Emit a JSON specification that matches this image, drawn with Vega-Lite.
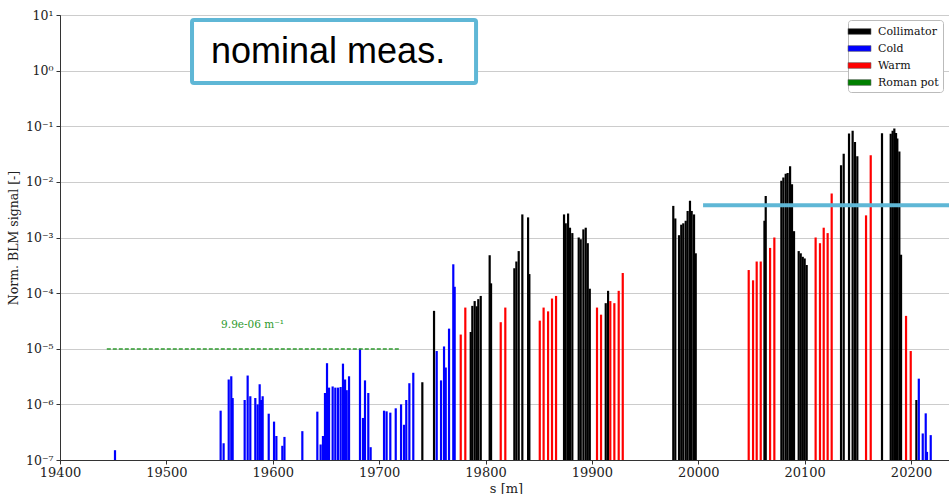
{
  "$schema": "https://vega.github.io/schema/vega-lite/v6.json",
  "width": 892,
  "height": 445,
  "autosize": {"type": "none"},
  "padding": {"left": 60, "top": 15, "right": 0, "bottom": 34},
  "background": "white",
  "config": {
    "view": {"stroke": "#333333", "strokeWidth": 1},
    "font": "DejaVu Serif"
  },
  "datasets": {
    "blm": [
      {"s": 19451.7, "signal": 1.5e-7, "type": "Cold"},
      {"s": 19551.0, "signal": 7.7e-7, "type": "Cold"},
      {"s": 19553.8, "signal": 2.0e-7, "type": "Cold"},
      {"s": 19558.6, "signal": 2.8e-6, "type": "Cold"},
      {"s": 19562.3, "signal": 1.3e-6, "type": "Cold"},
      {"s": 19561.0, "signal": 3.2e-6, "type": "Cold"},
      {"s": 19573.6, "signal": 1.2e-6, "type": "Cold"},
      {"s": 19576.4, "signal": 3.3e-6, "type": "Cold"},
      {"s": 19578.9, "signal": 1.4e-6, "type": "Cold"},
      {"s": 19583.6, "signal": 1.3e-6, "type": "Cold"},
      {"s": 19585.8, "signal": 1.0e-6, "type": "Cold"},
      {"s": 19587.7, "signal": 2.3e-6, "type": "Cold"},
      {"s": 19589.1, "signal": 1.2e-6, "type": "Cold"},
      {"s": 19590.5, "signal": 1.4e-6, "type": "Cold"},
      {"s": 19596.2, "signal": 6.8e-7, "type": "Cold"},
      {"s": 19601.2, "signal": 4.9e-7, "type": "Cold"},
      {"s": 19603.4, "signal": 2.7e-7, "type": "Cold"},
      {"s": 19609.0, "signal": 1.8e-7, "type": "Cold"},
      {"s": 19611.0, "signal": 2.6e-7, "type": "Cold"},
      {"s": 19627.8, "signal": 3.3e-7, "type": "Cold"},
      {"s": 19641.9, "signal": 7.4e-7, "type": "Cold"},
      {"s": 19645.0, "signal": 1.9e-7, "type": "Cold"},
      {"s": 19647.2, "signal": 2.7e-7, "type": "Cold"},
      {"s": 19649.1, "signal": 1.6e-6, "type": "Cold"},
      {"s": 19651.0, "signal": 5.5e-6, "type": "Cold"},
      {"s": 19652.9, "signal": 2.0e-6, "type": "Cold"},
      {"s": 19656.3, "signal": 2.1e-6, "type": "Cold"},
      {"s": 19658.8, "signal": 2.0e-6, "type": "Cold"},
      {"s": 19661.3, "signal": 2.0e-6, "type": "Cold"},
      {"s": 19663.8, "signal": 2.05e-6, "type": "Cold"},
      {"s": 19666.0, "signal": 5.4e-6, "type": "Cold"},
      {"s": 19668.0, "signal": 2.8e-6, "type": "Cold"},
      {"s": 19669.5, "signal": 1.8e-6, "type": "Cold"},
      {"s": 19671.7, "signal": 3.2e-6, "type": "Cold"},
      {"s": 19682.0, "signal": 1.0e-5, "type": "Cold"},
      {"s": 19684.8, "signal": 5.7e-7, "type": "Cold"},
      {"s": 19686.7, "signal": 2.7e-6, "type": "Cold"},
      {"s": 19689.8, "signal": 1.6e-6, "type": "Cold"},
      {"s": 19692.0, "signal": 1.7e-7, "type": "Cold"},
      {"s": 19704.6, "signal": 7.7e-7, "type": "Cold"},
      {"s": 19707.0, "signal": 7.5e-7, "type": "Cold"},
      {"s": 19710.5, "signal": 7.1e-7, "type": "Cold"},
      {"s": 19715.6, "signal": 8.5e-7, "type": "Cold"},
      {"s": 19720.6, "signal": 1.0e-6, "type": "Cold"},
      {"s": 19723.4, "signal": 4.3e-7, "type": "Cold"},
      {"s": 19725.5, "signal": 1.2e-6, "type": "Cold"},
      {"s": 19728.4, "signal": 2.4e-6, "type": "Cold"},
      {"s": 19732.1, "signal": 3.7e-6, "type": "Cold"},
      {"s": 19740.6, "signal": 2.5e-6, "type": "Collimator"},
      {"s": 19751.6, "signal": 4.8e-5, "type": "Collimator"},
      {"s": 19754.1, "signal": 9.1e-6, "type": "Cold"},
      {"s": 19758.2, "signal": 2.7e-6, "type": "Cold"},
      {"s": 19761.0, "signal": 1.1e-5, "type": "Cold"},
      {"s": 19762.6, "signal": 4.6e-6, "type": "Cold"},
      {"s": 19765.7, "signal": 2.3e-5, "type": "Cold"},
      {"s": 19771.0, "signal": 1.3e-4, "type": "Cold"},
      {"s": 19769.7, "signal": 3.3e-4, "type": "Cold"},
      {"s": 19776.7, "signal": 1.8e-5, "type": "Warm"},
      {"s": 19781.0, "signal": 5.5e-5, "type": "Warm"},
      {"s": 19786.1, "signal": 2.0e-5, "type": "Collimator"},
      {"s": 19787.6, "signal": 5.9e-5, "type": "Collimator"},
      {"s": 19789.8, "signal": 7.2e-5, "type": "Collimator"},
      {"s": 19791.7, "signal": 5.8e-5, "type": "Collimator"},
      {"s": 19793.2, "signal": 7.8e-5, "type": "Collimator"},
      {"s": 19795.5, "signal": 8.9e-5, "type": "Collimator"},
      {"s": 19805.2, "signal": 1.5e-4, "type": "Collimator"},
      {"s": 19803.9, "signal": 4.8e-4, "type": "Collimator"},
      {"s": 19814.3, "signal": 3.0e-5, "type": "Warm"},
      {"s": 19818.6, "signal": 5.5e-5, "type": "Warm"},
      {"s": 19827.1, "signal": 2.8e-4, "type": "Collimator"},
      {"s": 19829.0, "signal": 3.7e-4, "type": "Collimator"},
      {"s": 19831.2, "signal": 5.7e-4, "type": "Collimator"},
      {"s": 19834.6, "signal": 2.6e-3, "type": "Collimator"},
      {"s": 19841.2, "signal": 2.2e-4, "type": "Collimator"},
      {"s": 19840.0, "signal": 2.3e-3, "type": "Collimator"},
      {"s": 19851.0, "signal": 3.2e-5, "type": "Warm"},
      {"s": 19854.6, "signal": 5.5e-5, "type": "Warm"},
      {"s": 19858.8, "signal": 4.7e-5, "type": "Warm"},
      {"s": 19862.5, "signal": 8.0e-5, "type": "Warm"},
      {"s": 19866.3, "signal": 8.9e-5, "type": "Warm"},
      {"s": 19873.8, "signal": 2.6e-3, "type": "Collimator"},
      {"s": 19875.4, "signal": 1.8e-3, "type": "Collimator"},
      {"s": 19877.6, "signal": 2.7e-3, "type": "Collimator"},
      {"s": 19879.4, "signal": 1.5e-3, "type": "Collimator"},
      {"s": 19881.6, "signal": 1.2e-3, "type": "Collimator"},
      {"s": 19887.6, "signal": 1.0e-3, "type": "Collimator"},
      {"s": 19889.5, "signal": 9.3e-4, "type": "Collimator"},
      {"s": 19892.0, "signal": 1.4e-3, "type": "Collimator"},
      {"s": 19894.2, "signal": 1.5e-3, "type": "Collimator"},
      {"s": 19896.1, "signal": 7.9e-4, "type": "Collimator"},
      {"s": 19898.0, "signal": 1.2e-4, "type": "Collimator"},
      {"s": 19904.8, "signal": 5.5e-5, "type": "Warm"},
      {"s": 19908.6, "signal": 4.1e-5, "type": "Warm"},
      {"s": 19913.0, "signal": 6.6e-5, "type": "Collimator"},
      {"s": 19915.2, "signal": 1.1e-4, "type": "Collimator"},
      {"s": 19917.3, "signal": 7.2e-5, "type": "Warm"},
      {"s": 19921.1, "signal": 6.6e-5, "type": "Warm"},
      {"s": 19925.2, "signal": 1.1e-4, "type": "Warm"},
      {"s": 19929.0, "signal": 2.3e-4, "type": "Warm"},
      {"s": 19976.5, "signal": 3.7e-3, "type": "Collimator"},
      {"s": 19978.4, "signal": 2.2e-3, "type": "Collimator"},
      {"s": 19981.9, "signal": 1.1e-3, "type": "Collimator"},
      {"s": 19984.0, "signal": 1.7e-3, "type": "Collimator"},
      {"s": 19985.9, "signal": 1.8e-3, "type": "Collimator"},
      {"s": 19988.2, "signal": 2.0e-3, "type": "Collimator"},
      {"s": 19990.0, "signal": 3.0e-3, "type": "Collimator"},
      {"s": 19992.2, "signal": 4.6e-3, "type": "Collimator"},
      {"s": 19993.8, "signal": 3.0e-3, "type": "Collimator"},
      {"s": 19996.0, "signal": 2.6e-3, "type": "Collimator"},
      {"s": 19997.6, "signal": 5.2e-4, "type": "Collimator"},
      {"s": 20047.4, "signal": 2.6e-4, "type": "Warm"},
      {"s": 20051.5, "signal": 1.7e-4, "type": "Warm"},
      {"s": 20054.9, "signal": 3.7e-4, "type": "Warm"},
      {"s": 20058.7, "signal": 3.7e-4, "type": "Warm"},
      {"s": 20062.2, "signal": 2.0e-3, "type": "Collimator"},
      {"s": 20063.4, "signal": 5.6e-3, "type": "Collimator"},
      {"s": 20067.5, "signal": 6.5e-4, "type": "Warm"},
      {"s": 20071.5, "signal": 1.0e-3, "type": "Warm"},
      {"s": 20078.1, "signal": 1.05e-2, "type": "Collimator"},
      {"s": 20080.0, "signal": 1.2e-2, "type": "Collimator"},
      {"s": 20082.2, "signal": 1.4e-2, "type": "Collimator"},
      {"s": 20084.0, "signal": 1.45e-2, "type": "Collimator"},
      {"s": 20086.3, "signal": 1.9e-2, "type": "Collimator"},
      {"s": 20088.1, "signal": 9.1e-3, "type": "Collimator"},
      {"s": 20090.0, "signal": 1.3e-3, "type": "Collimator"},
      {"s": 20094.4, "signal": 5.7e-4, "type": "Collimator"},
      {"s": 20096.3, "signal": 5.2e-4, "type": "Collimator"},
      {"s": 20098.2, "signal": 4.5e-4, "type": "Collimator"},
      {"s": 20100.0, "signal": 4.2e-4, "type": "Collimator"},
      {"s": 20101.9, "signal": 3.2e-4, "type": "Collimator"},
      {"s": 20110.3, "signal": 1.0e-3, "type": "Warm"},
      {"s": 20114.4, "signal": 7.9e-4, "type": "Warm"},
      {"s": 20117.9, "signal": 1.5e-3, "type": "Warm"},
      {"s": 20121.6, "signal": 1.2e-3, "type": "Warm"},
      {"s": 20125.4, "signal": 6.2e-3, "type": "Warm"},
      {"s": 20134.2, "signal": 2.0e-2, "type": "Collimator"},
      {"s": 20136.7, "signal": 3.2e-2, "type": "Collimator"},
      {"s": 20141.7, "signal": 7.4e-2, "type": "Collimator"},
      {"s": 20145.1, "signal": 8.3e-2, "type": "Collimator"},
      {"s": 20147.3, "signal": 5.2e-2, "type": "Collimator"},
      {"s": 20149.5, "signal": 2.9e-2, "type": "Collimator"},
      {"s": 20157.7, "signal": 2.5e-3, "type": "Warm"},
      {"s": 20162.1, "signal": 3.0e-2, "type": "Warm"},
      {"s": 20172.7, "signal": 7.5e-2, "type": "Collimator"},
      {"s": 20180.9, "signal": 7.3e-2, "type": "Collimator"},
      {"s": 20182.7, "signal": 8.3e-2, "type": "Collimator"},
      {"s": 20184.3, "signal": 9.1e-2, "type": "Collimator"},
      {"s": 20185.9, "signal": 7.6e-2, "type": "Collimator"},
      {"s": 20187.1, "signal": 6.0e-2, "type": "Collimator"},
      {"s": 20189.0, "signal": 3.5e-2, "type": "Collimator"},
      {"s": 20190.6, "signal": 4.9e-4, "type": "Collimator"},
      {"s": 20195.3, "signal": 3.9e-5, "type": "Warm"},
      {"s": 20199.7, "signal": 9.1e-6, "type": "Warm"},
      {"s": 20205.0, "signal": 1.2e-6, "type": "Collimator"},
      {"s": 20207.3, "signal": 2.9e-6, "type": "Cold"},
      {"s": 20211.0, "signal": 3.0e-7, "type": "Cold"},
      {"s": 20213.8, "signal": 6.9e-7, "type": "Cold"},
      {"s": 20215.0, "signal": 1.4e-7, "type": "Cold"},
      {"s": 20218.5, "signal": 2.8e-7, "type": "Cold"}
    ]
  },
  "layer": [
    {
      "data": {"name": "blm"},
      "mark": {"type": "bar", "size": 2.2},
      "encoding": {
        "x": {
          "field": "s",
          "type": "quantitative",
          "scale": {"domain": [19400, 20238.5], "nice": false, "zero": false, "padding": 0},
          "axis": {
            "title": "s [m]",
            "titleFont": "DejaVu Serif",
            "titleFontSize": 13,
            "titleFontWeight": "normal",
            "titleColor": "#222222",
            "titlePadding": 3,
            "values": [19400, 19500, 19600, 19700, 19800, 19900, 20000, 20100, 20200],
            "format": "d",
            "labelFlush": false,
            "labelFont": "DejaVu Serif",
            "labelFontSize": 13,
            "labelColor": "#222222",
            "labelPadding": 2,
            "tickSize": 4,
            "tickColor": "#333333",
            "domainColor": "#333333",
            "grid": false
          }
        },
        "y": {
          "field": "signal",
          "type": "quantitative",
          "scale": {"type": "log", "domain": [1e-7, 10], "nice": false},
          "axis": {
            "title": "Norm. BLM signal [-]",
            "titleFont": "DejaVu Serif",
            "titleFontSize": 12.5,
            "titleFontWeight": "normal",
            "titleColor": "#222222",
            "titlePadding": 5,
            "values": [1e-7, 1e-6, 1e-5, 1e-4, 1e-3, 1e-2, 1e-1, 1, 10],
            "labelExpr": "['10⁻⁷','10⁻⁶','10⁻⁵','10⁻⁴','10⁻³','10⁻²','10⁻¹','10⁰','10¹'][round(log(datum.value)/LN10)+7]",
            "labelFlush": false,
            "labelFont": "DejaVu Serif",
            "labelFontSize": 12.5,
            "labelColor": "#222222",
            "labelPadding": 3,
            "tickSize": 4,
            "tickColor": "#333333",
            "domainColor": "#333333",
            "grid": true,
            "gridColor": "#cccccc",
            "gridWidth": 1
          }
        },
        "y2": {"datum": 1e-7},
        "color": {
          "field": "type",
          "type": "nominal",
          "scale": {
            "domain": ["Collimator", "Cold", "Warm", "Roman pot"],
            "range": ["#000000", "#0000ff", "#ff0000", "#008000"]
          },
          "legend": {
            "title": null,
            "orient": "none",
            "legendX": 788,
            "legendY": 5,
            "fillColor": "white",
            "strokeColor": "#bbbbbb",
            "cornerRadius": 3,
            "padding": 4,
            "symbolType": "M-1.6,-0.4H1.6V0.4H-1.6Z",
            "symbolSize": 207,
            "symbolStrokeColor": "#666666",
            "symbolStrokeWidth": 0.6,
            "symbolOpacity": 1,
            "labelFont": "DejaVu Serif",
            "labelFontSize": 11,
            "labelColor": "#111111",
            "labelOffset": 11,
            "rowPadding": 4
          }
        }
      }
    },
    {
      "data": {"values": [{"x1": 19444, "x2": 19719, "v": 9.9e-6}]},
      "mark": {"type": "rule", "color": "#2e9a2e", "strokeWidth": 1.5, "strokeDash": [4, 2]},
      "encoding": {
        "x": {"field": "x1", "type": "quantitative"},
        "x2": {"field": "x2"},
        "y": {"field": "v", "type": "quantitative"}
      }
    },
    {
      "data": {"values": [{"x": 19581, "v": 2.67e-5, "label": "9.9e-06 m⁻¹"}]},
      "mark": {"type": "text", "color": "#2e9a2e", "font": "DejaVu Serif", "fontSize": 10.5, "align": "center", "baseline": "middle"},
      "encoding": {
        "x": {"field": "x", "type": "quantitative"},
        "y": {"field": "v", "type": "quantitative"},
        "text": {"field": "label"}
      }
    },
    {
      "data": {"values": [{"x1": 20004.5, "x2": 20270, "v": 3.8e-3}]},
      "mark": {"type": "rule", "color": "#5fb7d6", "strokeWidth": 4},
      "encoding": {
        "x": {"field": "x1", "type": "quantitative"},
        "x2": {"field": "x2"},
        "y": {"field": "v", "type": "quantitative"}
      }
    },
    {
      "data": {"values": [{"x1": 19524.1, "x2": 19791.1, "v1": 8.13, "v2": 0.599}]},
      "mark": {"type": "rect", "fill": "white", "stroke": "#5fb7d6", "strokeWidth": 4, "cornerRadius": 2},
      "encoding": {
        "x": {"field": "x1", "type": "quantitative"},
        "x2": {"field": "x2"},
        "y": {"field": "v1", "type": "quantitative"},
        "y2": {"field": "v2"}
      }
    },
    {
      "data": {"values": [{"x": 19652, "v": 1.37, "label": "nominal meas."}]},
      "mark": {"type": "text", "font": "Liberation Sans", "fontSize": 36, "color": "#000000", "align": "center", "baseline": "alphabetic"},
      "encoding": {
        "x": {"field": "x", "type": "quantitative"},
        "y": {"field": "v", "type": "quantitative"},
        "text": {"field": "label"}
      }
    }
  ]
}
